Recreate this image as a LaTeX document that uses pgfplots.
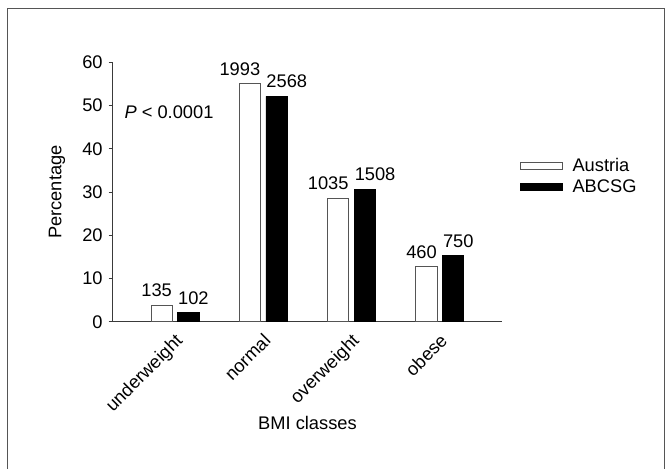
\documentclass[border=0pt]{standalone}
\usepackage{pgfplots}
\pgfplotsset{compat=1.18}
\usepackage{fontspec}
\setmainfont{Liberation Sans}
\definecolor{axgray}{HTML}{3A3A3A}
\definecolor{framegray}{HTML}{555555}
\begin{document}
\begin{tikzpicture}
\useasboundingbox (0,0) rectangle (499.5pt,351pt);
\draw[framegray, line width=0.9pt] (5.5pt,-5pt) -- (5.5pt,344.8pt) -- (498.5pt,344.8pt) -- (498.5pt,-5pt);
\begin{axis}[
  at={(84.5pt,109.7pt)}, anchor=south west,
  scale only axis, width=292.2pt, height=194.55pt,
  font=\fontsize{13.7}{16}\selectfont,
  xmin=-0.706, xmax=3.706, ymin=0, ymax=60,
  axis lines=left, axis line style={axgray, line width=0.8pt, -},
  ytick={0,10,...,60},
  xtick={0,1,2,3},
  xticklabels={underweight,normal,overweight,obese},
  x tick label style={rotate=45, anchor=north east, inner sep=1pt, yshift=-2pt, xshift=-3pt},
  major x tick style={draw=none},
  y tick label style={xshift=-1pt},
  tick align=outside, major tick length=3pt,
  tick style={axgray, line width=0.8pt},
  /pgf/number format/assume math mode=true,
  ylabel={Percentage},
  ylabel style={at={(axis description cs:-0.143,0.5)}, anchor=center},
  xlabel={BMI classes},
  xlabel style={at={(axis description cs:0.5,-0.392)}, anchor=center},
  ybar, bar width=16pt,
  point meta=explicit symbolic,
  nodes near coords,
  legend style={at={(axis description cs:1.0455,0.6266)}, anchor=north west,
    draw=none, fill=none, inner sep=0pt, row sep=6.5pt,
    nodes={inner sep=0pt, text height=9.2pt, text depth=0pt}},
  legend cell align=left,
  clip=false,
]
\addplot[draw=framegray, fill=white, line width=0.7pt, bar shift=-10pt,
  nodes near coords style={anchor=base east, xshift=8pt, yshift=6.5pt, inner sep=0pt, text=black},
  legend image code/.code={\draw[draw=framegray, fill=white, line width=0.7pt] (0pt,-2.6pt) rectangle (31pt,2.6pt); \path (38.5pt,0pt);}]
  coordinates {(0,3.73) [135] (1,55.01) [1993] (2,28.57) [1035] (3,12.70) [460]};
\addlegendentry{Austria}
\addplot[draw=black, fill=black, line width=0.7pt, bar shift=10pt,
  nodes near coords style={anchor=base west, xshift=-8pt, yshift=6.5pt, inner sep=0pt, text=black},
  legend image code/.code={\draw[draw=black, fill=black] (0pt,-2.6pt) rectangle (31pt,2.6pt); \path (38.5pt,0pt);}]
  coordinates {(0,2.07) [102] (1,52.11) [2568] (2,30.60) [1508] (3,15.22) [750]};
\addlegendentry{ABCSG}
\node[anchor=center, font=\fontsize{13.7}{16}\selectfont] at (axis cs:-0.068,48.35) {\textit{P} < 0.0001};
\end{axis}
\end{tikzpicture}
\end{document}
